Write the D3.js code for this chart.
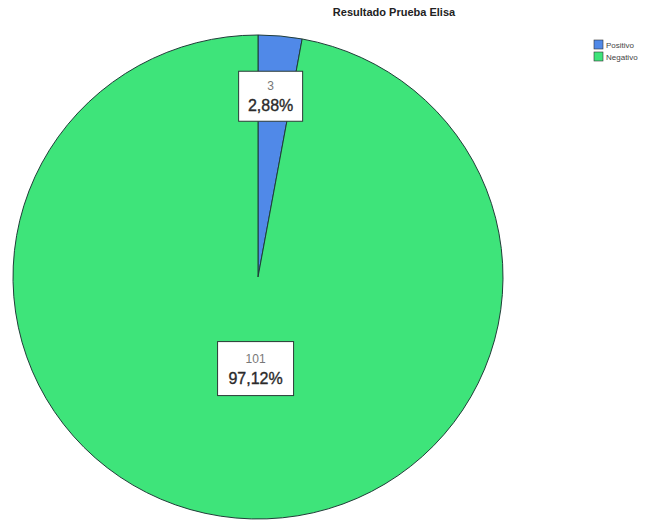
<!DOCTYPE html>
<html>
<head>
<meta charset="utf-8">
<script src="https://cdn.jsdelivr.net/npm/d3@7"></script>
<style>
  body { margin: 0; background: #fff; }
  svg { display: block; font-family: Arial, "Liberation Sans", sans-serif; }
</style>
</head>
<body>
<div id="graph"></div>
<script>
var width = 664, height = 520;

const categories = ["Positivo", "Negativo"];
const counts = [3, 101];
const percents = ["2,88%", "97,12%"];
const colors = ["#5089e8", "#3ee47a"];
const chartTitle = "Resultado Prueba Elisa";

const cx = 258, cy = 277, R = 245, ry = 242;

const svg = d3.select("#graph").append("svg")
    .attr("width", width)
    .attr("height", height);

svg.append("text")
    .attr("x", 394)
    .attr("y", 16)
    .attr("text-anchor", "middle")
    .style("font-size", "11px")
    .style("font-weight", "bold")
    .style("fill", "#222")
    .text(chartTitle);

const data = categories.map((c, i) => ({ name: c, value: counts[i], pct: percents[i], color: colors[i] }));

const pie = d3.pie().sort(null).value(d => d.value);
const arcs = pie(data);

const arc = d3.arc().innerRadius(0).outerRadius(R);

const g = svg.append("g")
    .attr("transform", `translate(${cx},${cy}) scale(1,${ry / R})`);

g.selectAll("path")
  .data(arcs)
  .join("path")
    .attr("d", arc)
    .attr("fill", d => d.data.color)
    .attr("stroke", "#1f3b37")
    .attr("stroke-width", 1);

// label radius: small slice near rim, big slice nearer centre
function labelPos(d) {
  const big = (d.endAngle - d.startAngle) > Math.PI;
  const r = big ? R * 0.38 : R * 0.75;
  const a = (d.startAngle + d.endAngle) / 2;
  return [cx + Math.sin(a) * r + (big ? 6 : -4), cy - Math.cos(a) * r * (ry / R)];
}

const labels = svg.append("g")
  .selectAll("g")
  .data(arcs)
  .join("g")
    .attr("transform", d => { const p = labelPos(d); return `translate(${p[0]},${p[1]})`; });

labels.each(function(d) {
  const sel = d3.select(this);
  const w = d.data.pct.length > 5 ? 76 : 64, h = d.data.pct.length > 5 ? 54 : 50;
  sel.append("rect")
      .attr("x", -w / 2).attr("y", -h / 2)
      .attr("width", w).attr("height", h)
      .attr("fill", "#fff")
      .attr("stroke", "#2a3a36")
      .attr("stroke-width", 1);
  sel.append("text")
      .attr("text-anchor", "middle")
      .attr("y", -6)
      .style("font-size", "12px")
      .style("fill", "#777")
      .text(d.data.value);
  sel.append("text")
      .attr("text-anchor", "middle")
      .attr("y", 15)
      .style("font-size", "16px")
      .style("fill", "#2a2a2a")
      .style("stroke", "#2a2a2a")
      .style("stroke-width", 0.35)
      .text(d.data.pct);
});

const legend = svg.append("g")
    .attr("transform", "translate(594,40)");

const li = legend.selectAll("g")
  .data(data)
  .join("g")
    .attr("transform", (d, i) => `translate(0,${i * 12})`);

li.append("rect")
    .attr("width", 9).attr("height", 9)
    .attr("fill", d => d.color)
    .attr("stroke", "#333")
    .attr("stroke-width", 0.6);

li.append("text")
    .attr("x", 12)
    .attr("y", 8)
    .style("font-size", "8px")
    .style("fill", "#444")
    .text(d => d.name);
</script>
</body>
</html>
